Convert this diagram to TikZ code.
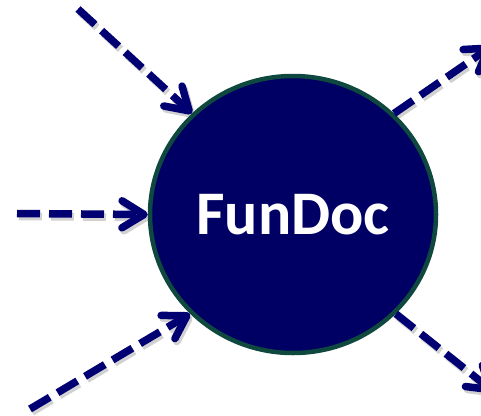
\documentclass[tikz,border=0pt]{standalone}
\usepackage{fontspec}
\setmainfont{Carlito}
\usetikzlibrary{arrows.meta,shapes.geometric,backgrounds}
\definecolor{navyfill}{RGB}{0,0,100}
\definecolor{arrowblue}{RGB}{0,0,115}
\definecolor{rimgreen}{RGB}{14,72,62}
\tikzset{
  hub/.style={ellipse, draw=rimgreen, line width=4.5pt, fill=navyfill,
    minimum width=286pt, minimum height=277pt, inner sep=0pt,
    text=white, font=\bfseries\fontsize{62}{62}\selectfont},
  flowbase/.style={line width=7.5pt, dash pattern=on 23pt off 9pt,
    -{Straight Barb[length=22pt,width=27pt,round]}},
  flow/.style={flowbase, draw=arrowblue},
  flowshadow/.style={flowbase, draw=black!18},
}
\begin{document}
\begin{tikzpicture}[x=1pt,y=-1pt]
\useasboundingbox (0,0) rectangle (481,415);
\clip (0,0) rectangle (481,415);
\coordinate (tl) at (78,9);
\coordinate (l) at (17,213.5);
\coordinate (bl) at (30,409);
\coordinate (tr) at (492,46);
\coordinate (br) at (494,392);
\node[hub] (c) at (293,214.5) {FunDoc};
\draw[flow] (tl) -- (c.135);
\draw[flow] (l) -- (c.180);
\draw[flow] (bl) -- (c.224);
\draw[flow] (c.45) -- (tr);
\draw[flow] (c.316) -- (br);
\begin{scope}[on background layer]
\begin{scope}[transform canvas={shift={(2pt,-3pt)}}]
\draw[flowshadow] (tl) -- (c.135);
\draw[flowshadow] (l) -- (c.180);
\draw[flowshadow] (bl) -- (c.224);
\draw[flowshadow] (c.45) -- (tr);
\draw[flowshadow] (c.316) -- (br);
\end{scope}
\end{scope}
\end{tikzpicture}
\end{document}
